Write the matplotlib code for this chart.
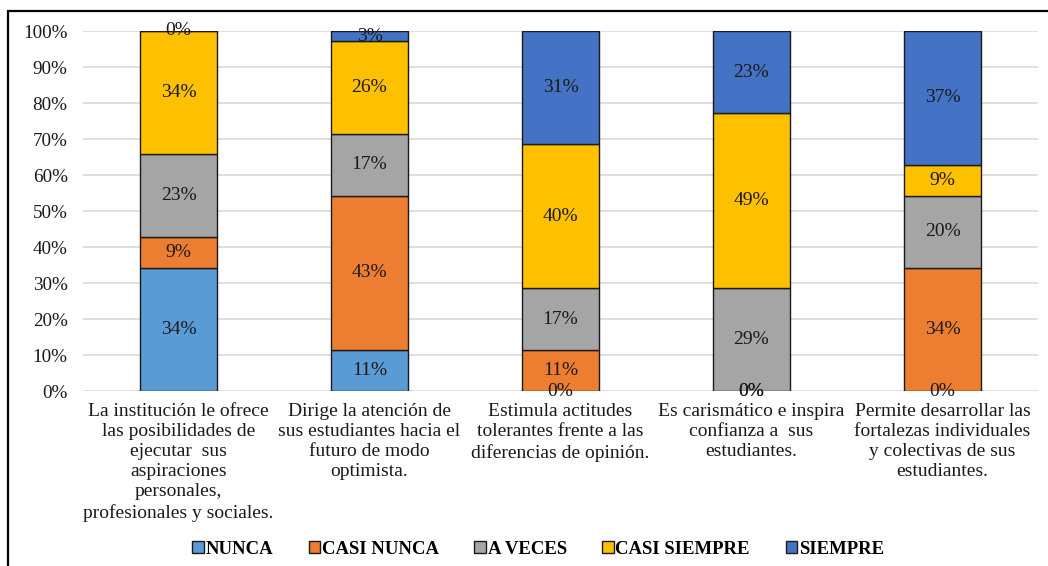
import matplotlib
matplotlib.use("Agg")
import matplotlib.pyplot as plt
from matplotlib.patches import Rectangle
import numpy as np

plt.rcParams['font.family'] = ['Liberation Serif', 'DejaVu Serif']

categories = [
    "La institución le ofrece\nlas posibilidades de\nejecutar  sus\naspiraciones\npersonales,\nprofesionales y sociales.",
    "Dirige la atención de\nsus estudiantes hacia el\nfuturo de modo\noptimista.",
    "Estimula actitudes\ntolerantes frente a las\ndiferencias de opinión.",
    "Es carismático e inspira\nconfianza a  sus\nestudiantes.",
    "Permite desarrollar las\nfortalezas individuales\ny colectivas de sus\nestudiantes.",
]

series_names = ["NUNCA", "CASI NUNCA", "A VECES", "CASI SIEMPRE", "SIEMPRE"]
nunca = [34.29, 11.43, 0.00, 0.00, 0.00]
casi_nunca = [8.57, 42.86, 11.43, 0.00, 34.29]
a_veces = [22.86, 17.14, 17.14, 28.57, 20.00]
casi_siempre = [34.29, 25.71, 40.00, 48.57, 8.57]
siempre = [0.00, 2.86, 31.43, 22.86, 37.14]

colors = ["#5B9BD5", "#ED7D31", "#A5A5A5", "#FFC000", "#4472C4"]
ytick_values = [0, 10, 20, 30, 40, 50, 60, 70, 80, 90, 100]

fig = plt.figure(figsize=(10.48, 5.66), dpi=100)
ax = fig.add_axes([83 / 1048, 1 - 391 / 566, (1038 - 83) / 1048, 360 / 566])

x = np.arange(len(categories))
bottom = np.zeros(len(categories))
handles = []
for name, vals, col in zip(series_names,
                           [nunca, casi_nunca, a_veces, casi_siempre, siempre],
                           colors):
    vals = np.array(vals)
    bars = ax.bar(x, vals, width=0.40, bottom=bottom, color=col,
                  edgecolor="#1a1a1a", linewidth=1.0, label=name, zorder=3)
    handles.append(bars)
    for xi, b, v in zip(x, bottom, vals):
        ax.text(xi, b + v / 2, f"{v:.0f}%", ha="center", va="center",
                fontsize=14, color="#1a1a1a", zorder=4)
    bottom += vals

ax.set_xlim(-0.5, len(categories) - 0.5)
ax.set_ylim(0, 100)
ax.set_yticks(ytick_values)
ax.set_yticklabels([f"{v}%" for v in ytick_values], fontsize=13.8)
ax.set_xticks(x)
ax.set_xticklabels(categories, fontsize=14, linespacing=1.23, va="top")
ax.tick_params(axis="both", length=0, colors="#1a1a1a")
ax.tick_params(axis="y", pad=11)
ax.tick_params(axis="x", pad=9)
ax.grid(axis="y", color="#d9d9d9", linewidth=1.2, zorder=0)
for s in ax.spines.values():
    s.set_visible(False)

fig.legend(handles=handles, labels=series_names, loc="center",
           bbox_to_anchor=(538 / 1048, 1 - 549 / 566), ncol=5, frameon=False,
           prop={"weight": "bold", "size": 13.5},
           handlelength=0.6, handleheight=0.6, handletextpad=0.1,
           columnspacing=1.9)

# outer chart frame
fig.patches.append(Rectangle((8 / 1048, -0.1), 1.2, 1 - 11 / 566 + 0.1,
                             transform=fig.transFigure, fill=False,
                             edgecolor="black", linewidth=1.6))

fig.savefig("out.png", dpi=100)
